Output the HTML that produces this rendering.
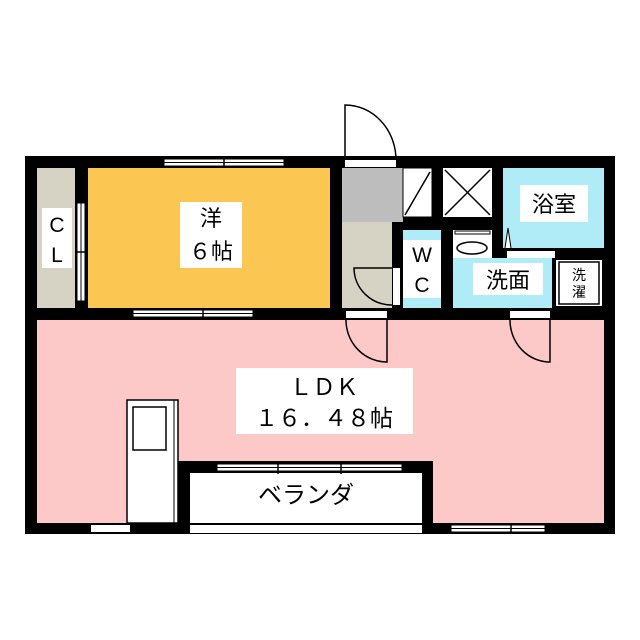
<!DOCTYPE html>
<html><head><meta charset="utf-8"><style>
body{margin:0;background:#fff;}
svg{display:block;}
text{font-family:"Liberation Sans","Noto Sans CJK JP",sans-serif;fill:#000;}
</style></head><body>
<svg width="640" height="640" viewBox="0 0 640 640" xmlns="http://www.w3.org/2000/svg">
<rect x="0" y="0" width="640" height="640" fill="#fff"/>
<rect x="25" y="156" width="590" height="378" fill="#000"/>
<rect x="37" y="320" width="567" height="203" fill="#fcc8c8"/>
<rect x="37" y="168" width="38" height="140" fill="#d6d2c4"/>
<rect x="88" y="168" width="242" height="140" fill="#fbc752"/>
<rect x="342" y="168" width="61" height="54" fill="#bdbdbd"/>
<rect x="342" y="222" width="50" height="86" fill="#d6d2c4"/>
<rect x="403" y="168" width="29" height="49" fill="#fff" stroke="#000" stroke-width="1"/>
<line x1="405" y1="215" x2="430" y2="172" stroke="#000" stroke-width="1.5"/>
<rect x="443" y="168" width="49" height="49" fill="#fff"/>
<line x1="445" y1="170" x2="490" y2="215" stroke="#000" stroke-width="1.5"/>
<line x1="490" y1="170" x2="445" y2="215" stroke="#000" stroke-width="1.5"/>
<rect x="503" y="168" width="101" height="80" fill="#b0ecf8"/>
<path d="M505,248 L508,228 L511,248" fill="#fff" stroke="#000" stroke-width="1"/>
<rect x="507" y="251" width="48" height="7" fill="#fff"/>
<rect x="403" y="230" width="38" height="78" fill="#b0ecf8"/>
<rect x="403" y="240" width="38" height="58" fill="#fff"/>
<rect x="453" y="230" width="39" height="28" fill="#fff"/>
<rect x="455" y="231" width="35" height="3" fill="#fff" stroke="#000" stroke-width="1"/>
<ellipse cx="472" cy="248" rx="15" ry="6" fill="#fff" stroke="#000" stroke-width="1.5"/>
<rect x="453" y="258" width="99" height="50" fill="#b0ecf8"/>
<rect x="556" y="260" width="46" height="46" fill="#fff"/>
<rect x="559" y="262" width="40" height="42" fill="#fff" stroke="#000" stroke-width="1.5"/>
<rect x="164" y="159" width="120" height="7" fill="#fff" stroke="#000" stroke-width="1"/>
<line x1="164" y1="162.5" x2="284" y2="162.5" stroke="#000" stroke-width="1"/>
<line x1="224" y1="157" x2="224" y2="168" stroke="#000" stroke-width="1.5"/>
<rect x="133" y="310" width="120" height="7" fill="#fff" stroke="#000" stroke-width="1"/>
<line x1="133" y1="313.5" x2="253" y2="313.5" stroke="#000" stroke-width="1"/>
<line x1="203" y1="308" x2="203" y2="320" stroke="#000" stroke-width="1.5"/>
<rect x="77" y="203" width="8" height="98" fill="#fff" stroke="#000" stroke-width="1"/>
<line x1="81" y1="203" x2="81" y2="301" stroke="#000" stroke-width="1"/>
<line x1="75" y1="252" x2="88" y2="252" stroke="#000" stroke-width="1.5"/>
<rect x="345" y="160" width="51" height="7" fill="#fff"/>
<path d="M345,160 L345,105 A51,55 0 0 1 396,160" fill="none" stroke="#000" stroke-width="1.5"/>
<rect x="393" y="268" width="7" height="37" fill="#fff"/>
<path d="M392,305 A38,37 0 0 1 354,268 L392,268" fill="none" stroke="#000" stroke-width="1.5"/>
<rect x="346" y="311" width="41" height="7" fill="#fff"/>
<path d="M346,320 A41,42 0 0 0 387,362 L387,320" fill="none" stroke="#000" stroke-width="1.5"/>
<rect x="510" y="311" width="40" height="7" fill="#fff"/>
<path d="M510,320 A40,42 0 0 0 550,362 L550,320" fill="none" stroke="#000" stroke-width="1.5"/>
<rect x="127" y="400" width="51" height="123" fill="#fff" stroke="#000" stroke-width="1.5"/>
<line x1="174" y1="400" x2="174" y2="523" stroke="#000" stroke-width="1"/>
<rect x="133" y="407" width="33" height="43" fill="#fff" stroke="#000" stroke-width="1.5"/>
<rect x="178" y="461" width="255" height="73" fill="#000"/>
<rect x="190" y="473" width="232" height="50" fill="#fff"/>
<rect x="190" y="525" width="232" height="8" fill="#fff"/>
<rect x="217" y="464" width="185" height="7" fill="#fff" stroke="#000" stroke-width="1"/>
<line x1="217" y1="467.5" x2="402" y2="467.5" stroke="#000" stroke-width="1"/>
<line x1="278" y1="462" x2="278" y2="474" stroke="#000" stroke-width="1.5"/>
<line x1="341" y1="462" x2="341" y2="474" stroke="#000" stroke-width="1.5"/>
<rect x="91" y="525" width="39" height="7" fill="#fff"/>
<rect x="451" y="525" width="94" height="7" fill="#fff" stroke="#000" stroke-width="1"/>
<line x1="451" y1="528.5" x2="545" y2="528.5" stroke="#000" stroke-width="1"/>
<line x1="511" y1="523" x2="511" y2="534" stroke="#000" stroke-width="1.5"/>
<rect x="180" y="202" width="62" height="66" fill="#fff"/>
<text x="211" y="226" font-size="22" text-anchor="middle">洋</text>
<text x="211" y="259" font-size="22" text-anchor="middle">６帖</text>
<rect x="42" y="208" width="30" height="60" fill="#fff"/>
<text x="57" y="232" font-size="21" text-anchor="middle">C</text>
<text x="57" y="262" font-size="21" text-anchor="middle">L</text>
<text x="422" y="262" font-size="21" text-anchor="middle">W</text>
<text x="422" y="292" font-size="21" text-anchor="middle">C</text>
<rect x="520" y="185" width="68" height="37" fill="#fff"/>
<text x="554" y="212" font-size="22" text-anchor="middle">浴室</text>
<rect x="473" y="263" width="70" height="32" fill="#fff"/>
<text x="508" y="288" font-size="22" text-anchor="middle">洗面</text>
<text x="579" y="280" font-size="14" text-anchor="middle">洗</text>
<text x="579" y="297" font-size="14" text-anchor="middle">濯</text>
<rect x="236" y="368" width="177" height="66" fill="#fff"/>
<text x="324" y="395" font-size="23" text-anchor="middle">ＬＤＫ</text>
<text x="324" y="426" font-size="23" text-anchor="middle">１６．４８帖</text>
<text x="306" y="503" font-size="24" text-anchor="middle">ベランダ</text>
</svg>
</body></html>
